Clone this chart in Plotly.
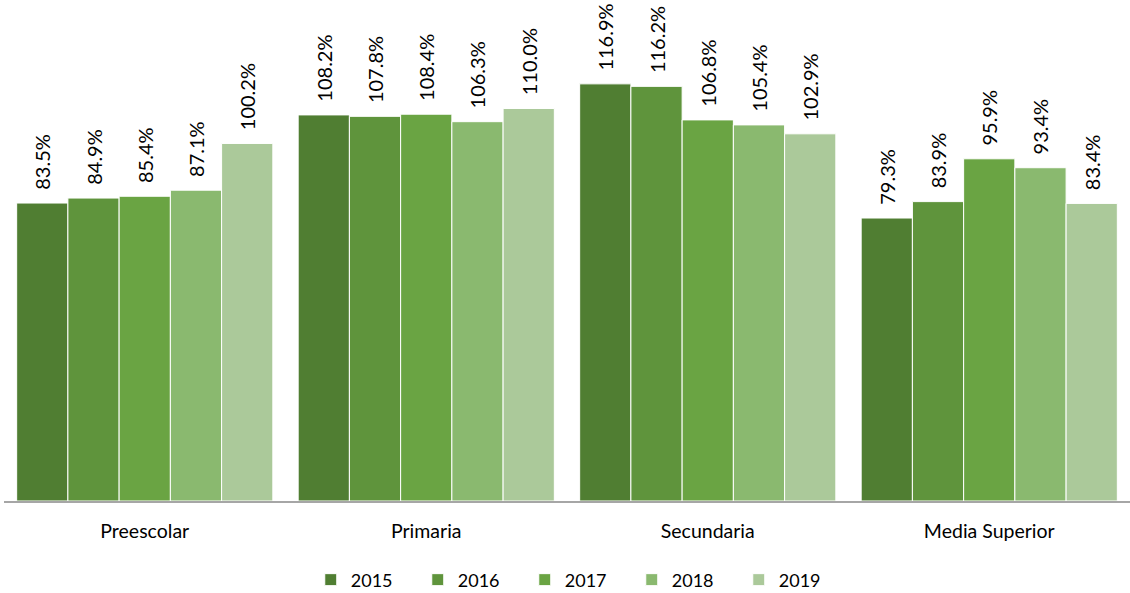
import plotly.graph_objects as go

categories = ["Preescolar", "Primaria", "Secundaria", "Media Superior"]
years = ["2015", "2016", "2017", "2018", "2019"]
v2015 = [83.5, 108.2, 116.9, 79.3]
v2016 = [84.9, 107.8, 116.2, 83.9]
v2017 = [85.4, 108.4, 106.8, 95.9]
v2018 = [87.1, 106.3, 105.4, 93.4]
v2019 = [100.2, 110.0, 102.9, 83.4]
series = [v2015, v2016, v2017, v2018, v2019]
colors = ["#507e32", "#5f943c", "#6aa443", "#8ab96f", "#abc99a"]

FONT = "Lato"
fig = go.Figure()
for name, vals, col in zip(years, series, colors):
    fig.add_trace(go.Bar(
        x=categories, y=vals, name=name,
        marker=dict(color=col, line=dict(color="white", width=1)),
        text=["\u00a0\u00a0" + f"{v:.1f}%" for v in vals],
        textposition="outside", textangle=-90, cliponaxis=False,
        constraintext="none",
        textfont=dict(family=FONT, size=20, color="#000000"),
    ))

fig.update_layout(
    width=1130, height=593,
    margin=dict(l=4, r=0, t=5, b=92),
    paper_bgcolor="white", plot_bgcolor="white",
    barmode="group", bargap=0.09, bargroupgap=0,
    font=dict(family=FONT, size=19, color="#000000"),
    xaxis=dict(showline=True, linecolor="#a6a6a6", linewidth=1.5,
               ticks="", tickfont=dict(family=FONT, size=19.5), ticklabelstandoff=12),
    yaxis=dict(range=[0, 139], visible=False),
    legend=dict(orientation="h", x=0.51, xanchor="center",
                yref="container", y=0.022, yanchor="middle",
                font=dict(family=FONT, size=18), entrywidth=62, itemwidth=30),
)
fig.write_html("out.html", config={"displayModeBar": False},
               post_script="document.body.style.margin='0';")
